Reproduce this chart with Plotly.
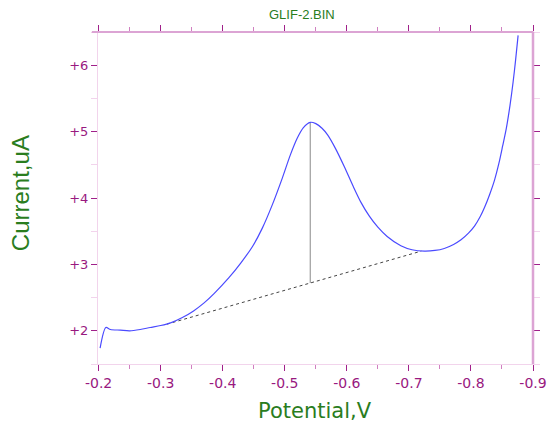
import plotly.graph_objects as go

# Voltammogram: potential (V) vs current (uA)
potential = [-0.2024, -0.2117, -0.219, -0.235, -0.25, -0.267, -0.283, -0.3, -0.316,
             -0.335, -0.353, -0.37, -0.386, -0.41, -0.429, -0.448, -0.464, -0.48,
             -0.496, -0.509, -0.52, -0.53, -0.541, -0.55, -0.56, -0.569, -0.582,
             -0.596, -0.61, -0.623, -0.636, -0.65, -0.665, -0.687, -0.705, -0.725,
             -0.742, -0.757, -0.772, -0.784, -0.796, -0.806, -0.815, -0.822, -0.83,
             -0.838, -0.845, -0.851, -0.857, -0.863, -0.868, -0.872, -0.876]
current = [1.74, 2.05, 2.02, 2.01, 2.00, 2.02, 2.05, 2.08, 2.12,
           2.20, 2.30, 2.42, 2.56, 2.80, 3.02, 3.27, 3.55, 3.90,
           4.30, 4.65, 4.90, 5.06, 5.14, 5.12, 5.05, 4.95, 4.74,
           4.47, 4.18, 3.93, 3.73, 3.56, 3.42, 3.28, 3.22, 3.20,
           3.21, 3.24, 3.30, 3.37, 3.47, 3.58, 3.72, 3.86, 4.05,
           4.27, 4.52, 4.78, 5.05, 5.40, 5.75, 6.08, 6.45]

# Baseline tangent and peak marker
baseline_x = [-0.31, -0.72]
baseline_y = [2.10, 3.20]
peak_x = -0.541
peak_y = 5.14

x_ticks = [-0.2, -0.3, -0.4, -0.5, -0.6, -0.7, -0.8, -0.9]
x_labels = ["-0.2", "-0.3", "-0.4", "-0.5", "-0.6", "-0.7", "-0.8", "-0.9"]
y_ticks = [2, 3, 4, 5, 6]
y_labels = ["+2", "+3", "+4", "+5", "+6"]

# current of the baseline under the peak
slope = (baseline_y[1] - baseline_y[0]) / (baseline_x[1] - baseline_x[0])
peak_base = baseline_y[0] + slope * (peak_x - baseline_x[0])

TICK_COLOR = "#a0208a"
LABEL_COLOR = "#99197f"
GREEN = "#2a7d1e"
FRAME = "#dca4d4"

fig = go.Figure()
fig.add_trace(go.Scatter(x=baseline_x, y=baseline_y, mode="lines",
                         line=dict(color="#444444", width=1, dash="dot"),
                         hoverinfo="skip"))
fig.add_trace(go.Scatter(x=[peak_x, peak_x], y=[peak_base, peak_y], mode="lines",
                         line=dict(color="#8a8a8a", width=1), hoverinfo="skip"))
fig.add_trace(go.Scatter(x=potential, y=current, mode="lines",
                         line=dict(color="#4a4aff", width=1.2, shape="spline",
                                   smoothing=0.8)))

fig.update_layout(
    width=547, height=423,
    margin=dict(l=98, r=14, t=32, b=59),
    paper_bgcolor="white", plot_bgcolor="white",
    showlegend=False,
    font=dict(family="DejaVu Sans", size=13, color=LABEL_COLOR),
    xaxis=dict(range=[-0.199, -0.9], tickvals=x_ticks, ticktext=x_labels,
               automargin=False,
               ticks="outside", ticklen=6, tickwidth=1, tickcolor=TICK_COLOR,
               showline=True, linecolor="#f2d4ec", linewidth=1, mirror="ticks",
               showgrid=False, zeroline=False,
               tickfont=dict(family="DejaVu Sans", size=14, color=LABEL_COLOR),
               minor=dict(dtick=0.05, tick0=0, ticks="outside", ticklen=4,
                          tickcolor="#d080c0", showgrid=False)),
    yaxis=dict(range=[1.5, 6.5], tickvals=y_ticks, ticktext=y_labels,
               automargin=False,
               ticks="outside", ticklen=6, tickwidth=1, tickcolor=TICK_COLOR,
               showline=True, linecolor="#f2d4ec", linewidth=1, mirror="ticks",
               showgrid=False, zeroline=False,
               tickfont=dict(family="DejaVu Sans", size=13, color=LABEL_COLOR),
               minor=dict(dtick=0.5, tick0=0, ticks="outside", ticklen=6,
                          tickcolor="#f2d4ec", showgrid=False)),
    shapes=[
        dict(type="line", xref="paper", yref="paper", x0=-0.014, x1=1, y0=1, y1=1,
             line=dict(color=FRAME, width=2)),
        dict(type="line", xref="paper", yref="paper", x0=1, x1=1, y0=0, y1=1,
             line=dict(color=FRAME, width=2.5)),
    ],
    annotations=[
        dict(text="GLIF-2.BIN", xref="paper", yref="paper", x=0.469, y=1,
             yshift=18, showarrow=False, xanchor="center", yanchor="middle",
             font=dict(family="Liberation Sans", size=13, color=GREEN)),
        dict(text="Current,uA", xref="paper", yref="paper", x=-0.179, y=0.515,
             textangle=-90, showarrow=False, xanchor="center", yanchor="middle",
             font=dict(family="Liberation Sans", size=24, color=GREEN)),
        dict(text="Potential,V", xref="paper", yref="paper", x=0.499, y=0,
             yshift=-47, showarrow=False, xanchor="center", yanchor="middle",
             font=dict(family="DejaVu Sans", size=21, color=GREEN)),
    ],
)

fig.write_html("out.html")
